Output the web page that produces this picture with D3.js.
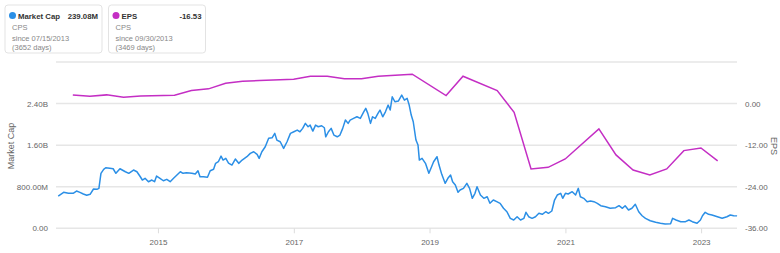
<!DOCTYPE html>
<html>
<head>
<meta charset="utf-8">
<script src="https://cdn.jsdelivr.net/npm/d3@7"></script>
<style>
  body { margin: 0; background: #fff; font-family: "Liberation Sans", Arial, sans-serif; }
  .tick text { fill: #666; font-size: 8px; }
  .grid line { stroke: #e6e6e6; stroke-width: 1.5px; }
</style>
</head>
<body>
<svg id="chart" width="780" height="253"></svg>
<script>
// market cap, in millions, at decimal-year dates
const mcapDates = [2013.53, 2013.61, 2013.68, 2013.75, 2013.80, 2013.85, 2013.90, 2013.95, 2014.00, 2014.05,
  2014.10, 2014.13, 2014.16, 2014.20, 2014.23, 2014.29, 2014.34, 2014.38, 2014.44, 2014.52,
  2014.57, 2014.64, 2014.69, 2014.74, 2014.77, 2014.81, 2014.86, 2014.91, 2014.95, 2014.98,
  2015.03, 2015.08, 2015.13, 2015.18, 2015.23, 2015.28, 2015.33, 2015.37, 2015.42, 2015.50,
  2015.55, 2015.59, 2015.62, 2015.67, 2015.73, 2015.77, 2015.82, 2015.85, 2015.89, 2015.93,
  2015.96, 2016.00, 2016.04, 2016.09, 2016.14, 2016.19, 2016.24, 2016.31, 2016.36, 2016.41,
  2016.46, 2016.49, 2016.53, 2016.58, 2016.63, 2016.68, 2016.72, 2016.75, 2016.80, 2016.85,
  2016.90, 2016.95, 2017.00, 2017.05, 2017.09, 2017.13, 2017.17, 2017.21, 2017.24, 2017.28,
  2017.32, 2017.36, 2017.41, 2017.45, 2017.47, 2017.51, 2017.55, 2017.59, 2017.64, 2017.68,
  2017.72, 2017.76, 2017.80, 2017.83, 2017.88, 2017.93, 2017.98, 2018.03, 2018.06, 2018.09,
  2018.13, 2018.16, 2018.20, 2018.24, 2018.27, 2018.31, 2018.35, 2018.39, 2018.42, 2018.45,
  2018.49, 2018.54, 2018.59, 2018.63, 2018.67, 2018.70, 2018.73, 2018.76, 2018.80, 2018.83,
  2018.85, 2018.89, 2018.94, 2018.99, 2019.03, 2019.06, 2019.11, 2019.14, 2019.18, 2019.23,
  2019.27, 2019.31, 2019.34, 2019.38, 2019.42, 2019.45, 2019.50, 2019.55, 2019.59, 2019.63,
  2019.67, 2019.70, 2019.75, 2019.80, 2019.85, 2019.89, 2019.94, 2019.99, 2020.04, 2020.09,
  2020.14, 2020.19, 2020.24, 2020.29, 2020.34, 2020.39, 2020.42, 2020.46, 2020.51, 2020.56,
  2020.61, 2020.66, 2020.71, 2020.75, 2020.80, 2020.84, 2020.88, 2020.93, 2020.96, 2021.00,
  2021.04, 2021.10, 2021.15, 2021.19, 2021.22, 2021.27, 2021.32, 2021.37, 2021.42, 2021.47,
  2021.52, 2021.59, 2021.66, 2021.74, 2021.79, 2021.84, 2021.88, 2021.93, 2021.98, 2022.03,
  2022.08, 2022.13, 2022.18, 2022.25, 2022.33, 2022.40, 2022.47, 2022.55, 2022.58, 2022.63,
  2022.70, 2022.77, 2022.82, 2022.87, 2022.94, 2022.99, 2023.02, 2023.06, 2023.11, 2023.16,
  2023.24, 2023.31, 2023.38, 2023.43, 2023.48, 2023.53];
const mcapValues = [621, 692, 673, 673, 717, 692, 660, 635, 654, 756,
  750, 769, 1058, 1135, 1165, 1154, 1146, 1058, 1146, 1088,
  1058, 1121, 1088, 992, 929, 962, 896, 929, 896, 1006,
  962, 915, 942, 896, 962, 1025, 1088, 1058, 1069, 1058,
  1044, 1108, 992, 992, 981, 1108, 1135, 1250, 1281, 1390,
  1313, 1346, 1256, 1217, 1333, 1250, 1313, 1377, 1442, 1473,
  1423, 1346, 1473, 1569, 1731, 1742, 1827, 1698, 1665, 1538,
  1665, 1827, 1858, 1890, 1858, 1923, 2019, 1954, 1986, 1871,
  1986, 1954, 1973, 1935, 1761, 1858, 1923, 1794, 1761, 1794,
  1923, 2083, 2019, 2083, 2115, 2146, 2115, 2242, 2308, 2211,
  2019, 2146, 2115, 2211, 2275, 2146, 2242, 2371, 2275, 2531,
  2435, 2448, 2563, 2467, 2500, 2371, 2179, 2050, 1698, 1602,
  1313, 1346, 1250, 1058, 1185, 1281, 1377, 1217, 1038, 865,
  962, 1025, 896, 833, 692, 737, 769, 865, 769, 577,
  673, 800, 640, 577, 608, 481, 544, 512, 481, 385,
  319, 192, 160, 223, 160, 192, 308, 223, 192, 223,
  288, 269, 319, 288, 333, 544, 640, 673, 577, 673,
  660, 704, 640, 769, 608, 577, 512, 525, 512, 481,
  435, 415, 385, 396, 435, 385, 435, 352, 385, 462,
  319, 242, 192, 146, 115, 96, 83, 88, 192, 160,
  127, 127, 160, 127, 96, 160, 242, 308, 269, 256,
  223, 192, 223, 256, 242, 239.08];

// quarterly EPS
const epsDates = ["2013-09-30", "2013-12-31", "2014-03-31", "2014-06-30", "2014-09-30", "2015-03-31",
  "2015-06-30", "2015-09-30", "2015-12-31", "2016-03-31", "2016-06-30", "2016-12-31",
  "2017-03-31", "2017-06-30", "2017-09-30", "2017-12-31", "2018-03-31", "2018-06-30",
  "2018-09-30", "2019-03-31", "2019-06-30", "2019-12-31", "2020-03-31", "2020-06-30",
  "2020-09-30", "2020-12-31", "2021-06-30", "2021-09-30", "2021-12-31", "2022-03-31",
  "2022-06-30", "2022-09-30", "2022-12-31", "2023-03-31"];
const epsValues = [2.51, 2.11, 2.51, 1.82, 2.22, 2.40,
  3.76, 4.25, 5.87, 6.45, 6.65, 7.02,
  7.89, 7.89, 7.14, 7.14, 7.89, 8.18,
  8.47, 2.31, 7.89, 3.76, -2.51, -18.87,
  -18.40, -15.98, -7.31, -14.82, -19.16, -20.60,
  -18.87, -13.58, -12.80, -16.53];

const yearTicks = [2015, 2017, 2019, 2021, 2023];
const leftTicks = [0, 800, 1600, 2400, 3200];
const leftLabels = ["0.00", "800.00M", "1.60B", "2.40B", ""];
const rightTicks = [-36, -24, -12, 0, 12];
const rightLabels = ["-36.00", "-24.00", "-12.00", "0.00", ""];

const legends = [
  {name: "Market Cap", value: "239.08M", color: "#2b8fe6", since: "since 07/15/2013", days: "(3652 days)"},
  {name: "EPS", value: "-16.53", color: "#c42ec4", since: "since 09/30/2013", days: "(3469 days)"},
];

function fromYear (y) {
  let yr = Math.floor(y);
  let start = new Date(yr, 0, 1), end = new Date(yr + 1, 0, 1);
  return new Date(+start + (y - yr) * (end - start));
}

let svg = d3.select('#chart');
let plotLeft = 58.5, plotRight = 737, plotTop = 62, plotBottom = 228.3;

let x = d3.scaleTime()
  .domain([new Date(2013, 6, 15), new Date(2023, 6, 13)])
  .range([plotLeft, plotRight]);
let yL = d3.scaleLinear().domain([0, 3200]).range([plotBottom, plotTop]);
let yR = d3.scaleLinear().domain([-36, 12]).range([plotBottom, plotTop]);

// gridlines
svg.append('g')
  .attr('class', 'grid')
  .selectAll('line')
  .data(leftTicks)
  .enter()
  .append('line')
  .attr('x1', 56)
  .attr('x2', plotRight)
  .attr('y1', d => yL(d))
  .attr('y2', d => yL(d));

// x axis
let xAxis = d3.axisBottom(x)
  .tickValues(yearTicks.map(y => new Date(y, 0, 1)))
  .tickFormat(d3.timeFormat('%Y'))
  .tickSize(5)
  .tickPadding(6);
let gx = svg.append('g')
  .attr('transform', 'translate(0,' + plotBottom + ')')
  .call(xAxis);
gx.select('.domain').remove();
gx.selectAll('.tick line').attr('stroke', '#ddd');

let yAxisL = d3.axisLeft(yL)
  .tickValues(leftTicks)
  .tickFormat((d, i) => leftLabels[i])
  .tickSize(0)
  .tickPadding(0);
let gl = svg.append('g')
  .attr('transform', 'translate(48,0)')
  .call(yAxisL);
gl.select('.domain').remove();

let yAxisR = d3.axisRight(yR)
  .tickValues(rightTicks)
  .tickFormat((d, i) => rightLabels[i])
  .tickSize(0)
  .tickPadding(0);
let gr = svg.append('g')
  .attr('transform', 'translate(745,0)')
  .call(yAxisR);
gr.select('.domain').remove();

// axis titles
svg.append('text')
  .attr('transform', 'translate(14,146) rotate(-90)')
  .attr('text-anchor', 'middle')
  .attr('font-size', 9)
  .attr('fill', '#666')
  .text('Market Cap');
svg.append('text')
  .attr('transform', 'translate(771,146) rotate(90)')
  .attr('text-anchor', 'middle')
  .attr('font-size', 9)
  .attr('fill', '#666')
  .text('EPS');

// lines
let mcap = mcapDates.map((d, i) => ({date: fromYear(d), value: mcapValues[i]}));
let eps = epsDates.map((d, i) => ({date: d3.timeParse('%Y-%m-%d')(d), value: epsValues[i]}));

svg.append('path')
  .datum(eps)
  .attr('fill', 'none')
  .attr('stroke', legends[1].color)
  .attr('stroke-width', 1.5)
  .attr('d', d3.line().x(d => x(d.date)).y(d => yR(d.value)));

svg.append('path')
  .datum(mcap)
  .attr('fill', 'none')
  .attr('stroke', legends[0].color)
  .attr('stroke-width', 1.5)
  .attr('stroke-linejoin', 'round')
  .attr('d', d3.line().x(d => x(d.date)).y(d => yL(d.value)));

// legend boxes
let box = svg.selectAll('g.legend')
  .data(legends)
  .enter()
  .append('g')
  .attr('class', 'legend')
  .attr('transform', (d, i) => 'translate(' + (5 + i * 103.5) + ',5)');
box.append('rect')
  .attr('width', 97)
  .attr('height', 48)
  .attr('rx', 3)
  .attr('fill', '#fff')
  .attr('stroke', '#e3e3e3');
box.append('circle')
  .attr('cx', 7.5)
  .attr('cy', 10.5)
  .attr('r', 3.5)
  .attr('fill', d => d.color);
box.append('text')
  .attr('x', 13)
  .attr('y', 13.5)
  .attr('font-size', 7.8)
  .attr('font-weight', 'bold')
  .attr('fill', '#333')
  .text(d => d.name);
box.append('text')
  .attr('x', 93)
  .attr('y', 13.5)
  .attr('text-anchor', 'end')
  .attr('font-size', 7.8)
  .attr('font-weight', 'bold')
  .attr('fill', '#333')
  .text(d => d.value);
box.append('text')
  .attr('x', 7)
  .attr('y', 25)
  .attr('font-size', 7.5)
  .attr('fill', '#888')
  .text('CPS');
box.append('text')
  .attr('x', 7)
  .attr('y', 36)
  .attr('font-size', 7.5)
  .attr('fill', '#888')
  .text(d => d.since);
box.append('text')
  .attr('x', 7)
  .attr('y', 45)
  .attr('font-size', 7.5)
  .attr('fill', '#888')
  .text(d => d.days);
</script>
</body>
</html>
